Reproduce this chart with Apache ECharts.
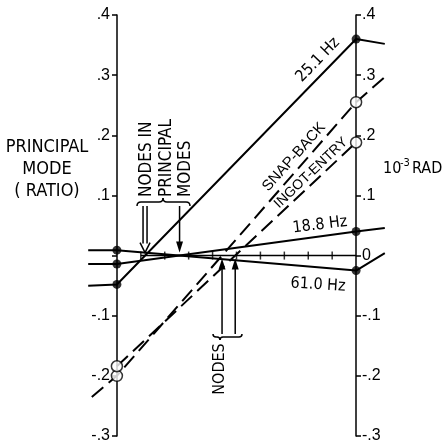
<!DOCTYPE html>
<html><head><meta charset="utf-8">
<script src="https://cdn.jsdelivr.net/npm/echarts@6/dist/echarts.min.js"></script>
<style>html,body{margin:0;padding:0;background:#fff}#c{width:446px;height:447px}</style>
</head><body><div id="c"></div>
<script>
// ---------- data ----------
const yTicks = [-0.3, -0.2, -0.1, 0, 0.1, 0.2, 0.3, 0.4];
const zeroTicks = [1, 2, 3, 4, 5, 6, 7, 8, 9];
const zeroLine = [[1, 0], [10, 0]];
// principal modes (ratio) at left station x=0 and right station x=10, plus stubs beyond
const mode251 = [[-1.2, -0.050], [0, -0.048], [10, 0.360], [11.2, 0.352]];
const mode188 = [[-1.2, -0.014], [0, -0.014], [10, 0.040], [11.2, 0.046]];
const mode610 = [[-1.2, 0.009], [0, 0.009], [10, -0.025], [11.2, 0.004]];
// angular deflections (10^-3 rad)
const snapBack = [[-1.05, -0.235], [0, -0.200], [10, 0.255], [11.2, 0.297]];
const ingotEntry = [[0, -0.184], [10, 0.188]];

const FONT = "'Liberation Sans Narrow','DejaVu Sans Condensed','Liberation Sans',sans-serif";
const FONT2 = "'Liberation Sans','DejaVu Sans',sans-serif";

function fmt(v) {
  const r = Math.round(v * 10);
  if (r === 0) return '0';
  return (r < 0 ? '-' : '') + '.' + Math.abs(r);
}
function stations(arr) { return arr.filter(p => p[0] === 0 || p[0] === 10); }
function zeroCross(arr) {
  const a = arr.find(p => p[0] === 0), b = arr.find(p => p[0] === 10);
  return a[0] - a[1] * (b[0] - a[0]) / (b[1] - a[1]);
}

const chart = echarts.init(document.getElementById('c'), null, {renderer: 'canvas', width: 446, height: 447});

const solid = {color: '#000', width: 2};
function lineSeries(name, data, dashed) {
  return {
    name, type: 'line', data, showSymbol: false, clip: false, silent: true,
    lineStyle: dashed ? {color: '#000', width: 2, type: [15, 7]} : solid, z: 3
  };
}
const axisCommon = {
  type: 'value', min: -0.3, max: 0.4, interval: 0.1,
  splitLine: {show: false},
  axisLine: {show: true, onZero: false, lineStyle: {color: '#000', width: 1.5}},
  axisTick: {show: true, length: 5, lineStyle: {color: '#000', width: 1.5}},
};

chart.setOption({
  animation: false,
  backgroundColor: '#fff',
  grid: {left: 87, right: 60, top: 15, bottom: 11, containLabel: false},
  xAxis: {type: 'value', min: -1.25, max: 11.25, show: false},
  yAxis: [
    Object.assign({}, axisCommon, {position: 'left', offset: -30,
      axisLabel: {color: '#000', fontSize: 16, fontFamily: FONT2, margin: 7,
        formatter: v => (Math.round(v * 10) === 0 ? '' : fmt(v))}}),
    Object.assign({}, axisCommon, {position: 'right', offset: -30,
      axisLabel: {color: '#000', fontSize: 16, fontFamily: FONT2, margin: 6, formatter: v => fmt(v)}})
  ],
  series: [
    {type: 'line', data: zeroLine, showSymbol: false, clip: false, silent: true, lineStyle: {color: '#000', width: 1.5}, z: 2},
    {type: 'scatter', data: zeroTicks.map(x => [x, 0]), symbol: 'rect', symbolSize: [1.5, 8], itemStyle: {color: '#000'}, clip: false, silent: true, z: 2},
    lineSeries('25.1 Hz', mode251),
    lineSeries('18.8 Hz', mode188),
    lineSeries('61.0 Hz', mode610),
    lineSeries('SNAP-BACK', snapBack, true),
    lineSeries('INGOT-ENTRY', ingotEntry, true),
    {type: 'scatter', data: [].concat(stations(mode251), stations(mode188), stations(mode610)),
      symbol: 'circle', symbolSize: 9, itemStyle: {color: '#000'}, clip: false, silent: true, z: 5},
    {type: 'scatter', data: [].concat(stations(snapBack), stations(ingotEntry)),
      symbol: 'circle', symbolSize: 11, itemStyle: {color: '#fff', borderColor: '#000', borderWidth: 1.5}, clip: false, silent: true, z: 6}
  ]
});

// ---------- annotations ----------
function px(x, y) { return chart.convertToPixel({xAxisIndex: 0, yAxisIndex: 0}, [x, y]); }
const els = [];
const stroke = {stroke: '#000', lineWidth: 1.5, fill: null};
function text(t, x, y, size, rot, opts) {
  els.push(Object.assign({type: 'text', x, y, rotation: rot || 0, z: 10,
    style: Object.assign({text: t, fill: '#000', fontSize: size, fontFamily: FONT, textAlign: 'center', textVerticalAlign: 'middle'}, opts || {})}));
}
function seg(x1, y1, x2, y2, w) { els.push({type: 'line', z: 10, shape: {x1, y1, x2, y2}, style: {stroke: '#000', lineWidth: w || 1.5}}); }
function qb(x1, y1, cx, cy, x2, y2) { els.push({type: 'bezierCurve', z: 10, shape: {x1, y1, cpx1: cx, cpy1: cy, x2, y2}, style: stroke}); }
function brace(xa, xb, xm, y, dir, h) {
  qb(xa, y - dir * h, xa, y, xa + h, y);
  seg(xa + h, y, xm - h, y);
  qb(xm - h, y, xm, y, xm, y + dir * h);
  qb(xm, y + dir * h, xm, y, xm + h, y);
  seg(xm + h, y, xb - h, y);
  qb(xb - h, y, xb, y, xb, y - dir * h);
}
function arrow(x, yFrom, yTip, dirDown) {
  const s = dirDown ? -1 : 1;
  seg(x, yFrom, x, yTip + s * 8);
  els.push({type: 'polygon', z: 10, shape: {points: [[x - 3.5, yTip + s * 11], [x + 3.5, yTip + s * 11], [x, yTip]]}, style: {fill: '#000'}});
}

const y0 = px(0, 0)[1];
// nodes of principal modes
const n1 = px(zeroCross(mode251), 0)[0];
const n2 = px((zeroCross(mode188) + zeroCross(mode610)) / 2, 0)[0];
brace(137, 190, 163, 202, -1, 4);
seg(n1 - 2, 206, n1 - 2, y0 - 12);
seg(n1 + 2, 206, n1 + 2, y0 - 12);
els.push({type: 'polyline', z: 10, shape: {points: [[n1 - 5, y0 - 13], [n1, y0 - 3], [n1 + 5, y0 - 13]]}, style: stroke});
arrow(n2, 206, y0 - 3, true);
text('NODES IN\nPRINCIPAL\nMODES', 137, 197, 17, Math.PI / 2, {textAlign: 'left', textVerticalAlign: 'top', lineHeight: 19.5});

// nodes of angular deflection
const n3 = px(zeroCross(snapBack), 0)[0];
const n4 = px(zeroCross(ingotEntry), 0)[0];
arrow(n3, 334, y0 + 3, false);
arrow(n4, 334, y0 + 3, false);
brace(213, 242, 220, 337, 1, 3);
text('NODES', 220, 369, 16, Math.PI / 2);

// axis titles
text('PRINCIPAL\nMODE\n( RATIO)', 47, 169, 18, 0, {lineHeight: 22});
text('10', 383, 169, 16, 0, {textAlign: 'left'});
text('-3', 400, 163, 11, 0, {textAlign: 'left'});
text('RAD', 412, 169, 16, 0, {textAlign: 'left'});

// curve labels
text('25.1 Hz', 318, 60, 16, 0.80);
text('18.8 Hz', 320, 225, 16, 0.12);
text('61.0 Hz', 318, 285, 16, -0.06);
text('SNAP-BACK', 294, 157, 15, 0.84, {fontFamily: FONT2});
text('INGOT-ENTRY', 311, 173, 14, 0.76, {fontFamily: FONT2});

chart.setOption({graphic: {elements: els}});
</script></body></html>
